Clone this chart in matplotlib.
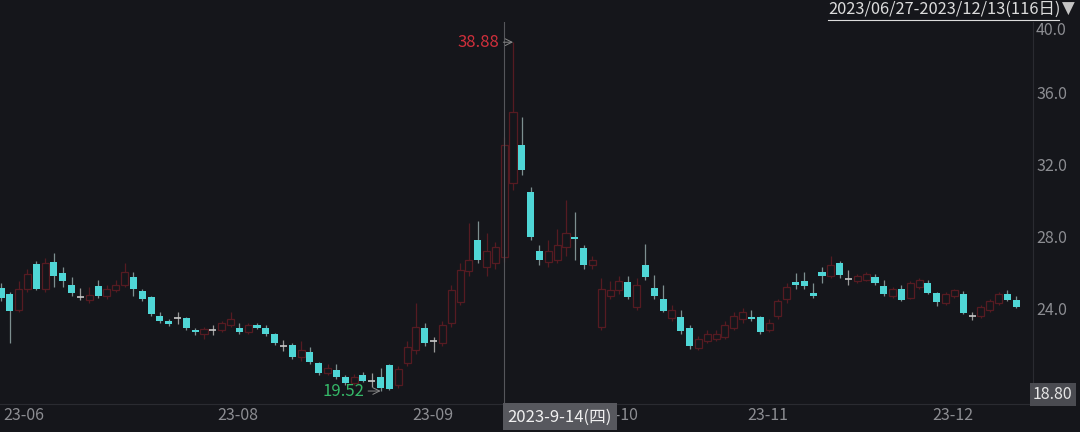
import matplotlib.pyplot as plt
import numpy as np
from matplotlib.lines import Line2D
from matplotlib.transforms import blended_transform_factory

plt.rcParams['font.family'] = ['Noto Sans CJK SC', 'DejaVu Sans']

# OHLC diário (116 pregões)
opens = [25.24, 24.91, 24.0, 25.2, 26.57, 25.2, 26.68, 26.07, 25.4, 24.78,
         24.55, 25.35, 24.8, 25.1, 25.4, 25.85, 25.07, 24.74, 23.69, 23.41,
         23.6, 23.58, 22.91, 22.7, 22.93, 22.9, 23.2, 23.02, 22.8, 23.19,
         23.02, 22.69, 22.04, 22.07, 21.4, 21.69, 21.08, 20.5, 20.69, 20.3,
         19.95, 20.41, 20.1, 20.3, 20.97, 19.85, 21.07, 21.8, 23.02, 22.32,
         22.19, 23.3, 24.46, 26.2, 27.9, 26.4, 26.6, 26.96, 31.07, 33.17,
         30.57, 27.29, 26.7, 26.8, 27.5, 28.05, 27.46, 26.5, 23.1, 24.8,
         25.1, 25.57, 24.19, 26.51, 25.24, 24.63, 23.6, 23.63, 23.02, 21.9,
         22.3, 22.4, 22.5, 23.0, 23.5, 23.63, 23.63, 22.9, 23.7, 24.6,
         25.57, 25.6, 24.96, 26.13, 25.9, 26.62, 25.76, 25.6, 25.7, 25.85,
         25.35, 24.8, 25.18, 24.7, 25.3, 25.52, 24.96, 24.4, 24.8, 24.91,
         23.71, 23.7, 24.0, 24.4, 24.91, 24.57]
highs = [25.5, 25.0, 25.6, 26.3, 26.74, 26.9, 27.18, 26.4, 25.85, 25.24,
         25.3, 25.68, 25.4, 25.7, 26.6, 26.1, 25.2, 24.8, 23.9, 23.5,
         23.88, 23.65, 23.0, 23.1, 23.19, 23.4, 23.9, 23.3, 23.3, 23.3,
         23.2, 22.75, 22.35, 22.2, 22.3, 21.96, 21.15, 21.0, 21.02, 20.4,
         20.45, 20.6, 20.52, 20.8, 21.0, 20.9, 22.3, 24.41, 23.3, 22.52,
         23.4, 25.4, 26.6, 28.85, 28.96, 28.3, 27.8, 33.6, 38.88, 34.73,
         30.84, 27.6, 27.9, 28.5, 30.1, 29.46, 27.6, 27.0, 25.8, 25.6,
         25.9, 25.9, 25.8, 27.68, 25.96, 25.4, 24.3, 24.0, 23.19, 22.6,
         22.9, 22.9, 23.4, 23.9, 24.1, 24.0, 23.7, 23.5, 24.6, 25.5,
         26.07, 26.13, 25.5, 26.4, 27.0, 26.75, 26.24, 26.0, 26.1, 26.0,
         25.68, 25.3, 25.4, 25.6, 25.8, 25.68, 25.0, 25.0, 25.2, 25.07,
         23.9, 24.3, 24.6, 25.0, 25.13, 24.8]
lows = [24.5, 22.19, 23.9, 25.0, 25.1, 25.0, 25.29, 25.3, 24.8, 24.57,
        24.4, 24.7, 24.6, 25.0, 25.3, 24.8, 24.5, 23.7, 23.3, 23.15,
        23.24, 22.9, 22.63, 22.4, 22.63, 22.8, 23.1, 22.7, 22.7, 22.95,
        22.6, 22.1, 21.74, 21.3, 21.2, 21.0, 20.4, 20.4, 20.2, 19.85,
        19.85, 20.0, 19.74, 19.52, 19.55, 19.7, 20.9, 21.6, 22.0, 21.69,
        22.0, 23.1, 24.3, 25.9, 26.6, 25.9, 26.3, 26.7, 30.7, 31.5,
        27.9, 26.5, 26.4, 26.6, 27.0, 26.79, 26.3, 26.3, 22.9, 24.6,
        24.9, 24.6, 24.0, 25.7, 24.6, 23.9, 23.4, 22.7, 21.85, 21.8,
        22.2, 22.3, 22.4, 22.9, 23.3, 23.4, 22.7, 22.8, 23.5, 24.4,
        25.2, 25.2, 24.7, 25.5, 25.8, 25.8, 25.4, 25.5, 25.6, 25.4,
        24.8, 24.7, 24.5, 24.6, 25.2, 24.9, 24.24, 24.3, 24.7, 23.8,
        23.46, 23.6, 23.9, 24.3, 24.5, 24.1]
closes = [24.68, 23.97, 25.2, 26.0, 25.18, 26.6, 25.9, 25.63, 24.96, 24.74,
          24.85, 24.8, 25.2, 25.4, 26.1, 25.18, 24.63, 23.8, 23.41, 23.24,
          23.56, 23.02, 22.8, 22.95, 22.89, 23.3, 23.5, 22.8, 23.2, 23.02,
          22.69, 22.19, 22.0, 21.41, 21.8, 21.13, 20.52, 20.8, 20.3, 19.97,
          20.3, 20.08, 20.06, 19.69, 19.64, 20.75, 21.96, 23.07, 22.19, 22.28,
          23.19, 25.13, 26.24, 26.8, 26.79, 27.3, 27.5, 33.17, 35.0, 31.79,
          28.07, 26.79, 27.3, 27.6, 28.3, 27.97, 26.51, 26.8, 25.2, 25.1,
          25.6, 24.74, 25.4, 25.85, 24.8, 23.96, 24.0, 22.85, 22.02, 22.4,
          22.7, 22.7, 23.2, 23.7, 23.9, 23.52, 22.8, 23.3, 24.5, 25.3,
          25.4, 25.35, 24.8, 25.9, 26.5, 25.96, 25.72, 25.9, 26.0, 25.52,
          24.91, 25.2, 24.57, 25.5, 25.7, 24.96, 24.46, 24.9, 25.1, 23.85,
          23.67, 24.2, 24.5, 24.9, 24.57, 24.19]

month_labels = ['23-06', '23-08', '23-09', '23-10', '23-11', '23-12']
month_pos = [0, 25, 47, 68, 85, 106]
y_ticks = [24.0, 28.0, 32.0, 36.0, 40.0]
y_min, y_max = 18.80, 40.0
hi_idx, hi_val = 58, 38.88
lo_idx, lo_val = 43, 19.52
cross_idx = 57
cross_label = '2023-9-14(四)'
header = '2023/06/27-2023/12/13(116日)'

bg = '#15161b'
cyan = '#4fd6d6'
red = '#561b22'
axis_col = '#2a2b31'
txt_col = '#8c8d92'

o = np.array(opens)
h = np.array(highs)
l = np.array(lows)
c = np.array(closes)
x = np.arange(len(o))

fig = plt.figure(figsize=(10.8, 4.32), dpi=100, facecolor=bg)
ax = fig.add_axes([0, 28 / 432, 1033 / 1080, 382 / 432], facecolor=bg)

up = c > o
flat = np.abs(c - o) < 0.08
down = (~up) & (~flat)
up = up & (~flat)
w = 0.8

# pavios
ax.vlines(x[up], l[up], h[up], color=red, lw=0.9, zorder=1)
ax.vlines(x[down], l[down], h[down], color='#7d8f90', lw=0.9, zorder=1)
ax.vlines(x[flat], l[flat], h[flat], color='#9a9a9a', lw=0.9, zorder=1)

# corpos
ax.bar(x[up], c[up] - o[up], bottom=o[up], width=w, facecolor=bg,
       edgecolor=red, linewidth=0.9, zorder=2)
ax.bar(x[down], o[down] - c[down], bottom=c[down], width=w, color=cyan,
       linewidth=0, zorder=2)
ax.hlines((o[flat] + c[flat]) / 2, x[flat] - w / 2, x[flat] + w / 2,
          color='#c8c8c8', lw=1.2, zorder=2)

ax.set_xlim(-0.11, 116.9)
ax.set_ylim(y_min, y_max)
ax.set_xticks([])
ax.set_yticks([])
for s in ['top', 'left']:
    ax.spines[s].set_visible(False)
ax.spines['right'].set_color(axis_col)
ax.spines['bottom'].set_color(axis_col)

# crosshair
ax.axvline(cross_idx, color='#55565b', lw=0.8, zorder=3)

# eixo y (direita)
ty = blended_transform_factory(ax.transAxes, ax.transData)
for v in y_ticks:
    ax.text(1.003, v, f'{v:.1f}', transform=ty, ha='left',
            va='top' if v == y_max else 'center',
            fontsize=11.5, color=txt_col, clip_on=False)
ax.text(1.0, y_min + 0.05, f'{y_min:.2f}', transform=ty, ha='left', va='bottom',
        fontsize=11.5, color='#e6e6e6', clip_on=False,
        bbox=dict(boxstyle='square,pad=0.2', facecolor='#4a4b51', edgecolor='none'))

# eixo x
tx = blended_transform_factory(ax.transData, ax.transAxes)
for p, lab in zip(month_pos, month_labels):
    ax.text(max(p - 0.45, 0.25), -0.03, lab, transform=tx, ha='left', va='center',
            fontsize=11.5, color=txt_col, clip_on=False)
ax.text(cross_idx + 0.4, -0.034, cross_label, transform=tx, ha='left', va='center',
        fontsize=12, color='#f0f0f0', clip_on=False, zorder=10,
        bbox=dict(boxstyle='square,pad=0.3', facecolor='#57585e', edgecolor='none'))

# máxima e mínima
ax.annotate(f'{hi_val:.2f}', xy=(hi_idx, hi_val), xytext=(-10, 0),
            textcoords='offset points', ha='right', va='center',
            fontsize=12, color='#cf2f3b',
            arrowprops=dict(arrowstyle='->', color='#8a8a8a', lw=0.7,
                            shrinkA=1, shrinkB=0))
ax.annotate(f'{lo_val:.2f}', xy=(lo_idx, lo_val), xytext=(-12, 0),
            textcoords='offset points', ha='right', va='center',
            fontsize=12, color='#35b868',
            arrowprops=dict(arrowstyle='->', color='#8a8a8a', lw=0.7,
                            shrinkA=1, shrinkB=0))

# cabeçalho
fig.text(828 / 1080, 1 - 9 / 432, header, ha='left', va='center',
         fontsize=11.8, color='#dcdcdc')
fig.text(1062 / 1080, 1 - 9 / 432, '▼', ha='left', va='center',
         fontsize=12, color='#c4c4c4', family=['DejaVu Sans'])
fig.add_artist(Line2D([828 / 1080, 1059 / 1080], [1 - 19.5 / 432, 1 - 19.5 / 432],
                      color='#dcdcdc', lw=0.8))

fig.savefig('out.png', dpi=100, facecolor=bg)
